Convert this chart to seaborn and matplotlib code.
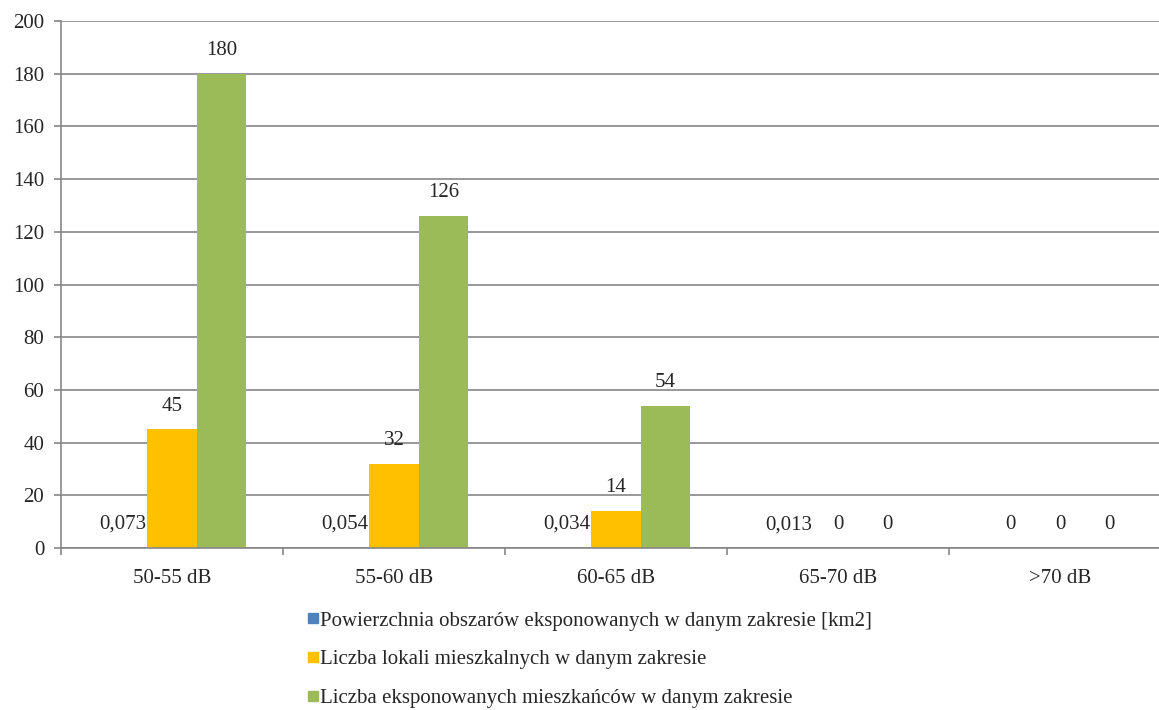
import pandas as pd
import numpy as np
import matplotlib
matplotlib.use("Agg")
import matplotlib.pyplot as plt
from matplotlib.lines import Line2D
import seaborn as sns

# data
categories = ["50-55 dB", "55-60 dB", "60-65 dB", "65-70 dB", ">70 dB"]
series = ["Powierzchnia obszarów eksponowanych w danym zakresie [km2]",
          "Liczba lokali mieszkalnych w danym zakresie",
          "Liczba eksponowanych mieszkańców w danym zakresie"]
area_km2 = [0.073, 0.054, 0.034, 0.013, 0]
dwellings = [45, 32, 14, 0, 0]
residents = [180, 126, 54, 0, 0]
colors = ["#4F81BD", "#FFC000", "#9BBB59"]

rows = []
for name, vals in zip(series, [area_km2, dwellings, residents]):
    for c, v in zip(categories, vals):
        rows.append({"zakres": c, "seria": name, "wartosc": v})
df = pd.DataFrame(rows)

sns.set_style("white")
plt.rcParams["font.family"] = ["Liberation Serif", "DejaVu Serif"]
fs = 15

fig = plt.figure(figsize=(11.59, 7.10), dpi=100)
ax = fig.add_axes([61 / 1159, 1 - 548 / 710, 1110 / 1159, 527 / 710])

sns.barplot(data=df, x="zakres", y="wartosc", hue="seria", order=categories,
            hue_order=series, palette=colors, width=0.67, saturation=1,
            linewidth=0, legend=False, ax=ax)

def fmt(v):
    if v == 0:
        return "0"
    if float(v).is_integer():
        return str(int(v))
    return f"{v:.3f}".replace(".", ",")

for cont, vals in zip(ax.containers, [area_km2, dwellings, residents]):
    ax.bar_label(cont, labels=[fmt(v) for v in vals], padding=10, fontsize=fs)

ax.set_ylim(0, 200)
ax.set_xlim(-0.5, 4.5)
ax.set_yticks(np.arange(0, 201, 20))
ax.yaxis.grid(True, color="#868686", linewidth=1.2)
ax.set_axisbelow(True)
ax.set_xlabel("")
ax.set_ylabel("")
for s in ["top", "right"]:
    ax.spines[s].set_visible(False)
for s in ["left", "bottom"]:
    ax.spines[s].set_color("#868686")
    ax.spines[s].set_linewidth(1.2)

ax.set_xticks(np.arange(5))
ax.set_xticklabels(categories, fontsize=fs)
ax.set_xticks(np.arange(-0.5, 5, 1), minor=True)
ax.tick_params(axis="x", which="major", length=0, pad=15)
ax.tick_params(axis="x", which="minor", length=5, color="#868686", width=1.2, direction="out")
ax.tick_params(axis="y", length=5, color="#868686", width=1.2, direction="out", labelsize=fs, pad=7)
ax.tick_params(axis="both", which="both", bottom=True, left=True)

handles = [Line2D([], [], marker="s", linestyle="", markersize=7,
                  color=c) for c in colors]
fig.legend(handles, series, loc="upper left", bbox_to_anchor=(308 / 1159, 1 - 611 / 710),
           frameon=False, fontsize=fs, handlelength=0.5, handletextpad=0.1,
           labelspacing=0.92, borderaxespad=0, borderpad=0)

fig.savefig("out.png", dpi=100)
